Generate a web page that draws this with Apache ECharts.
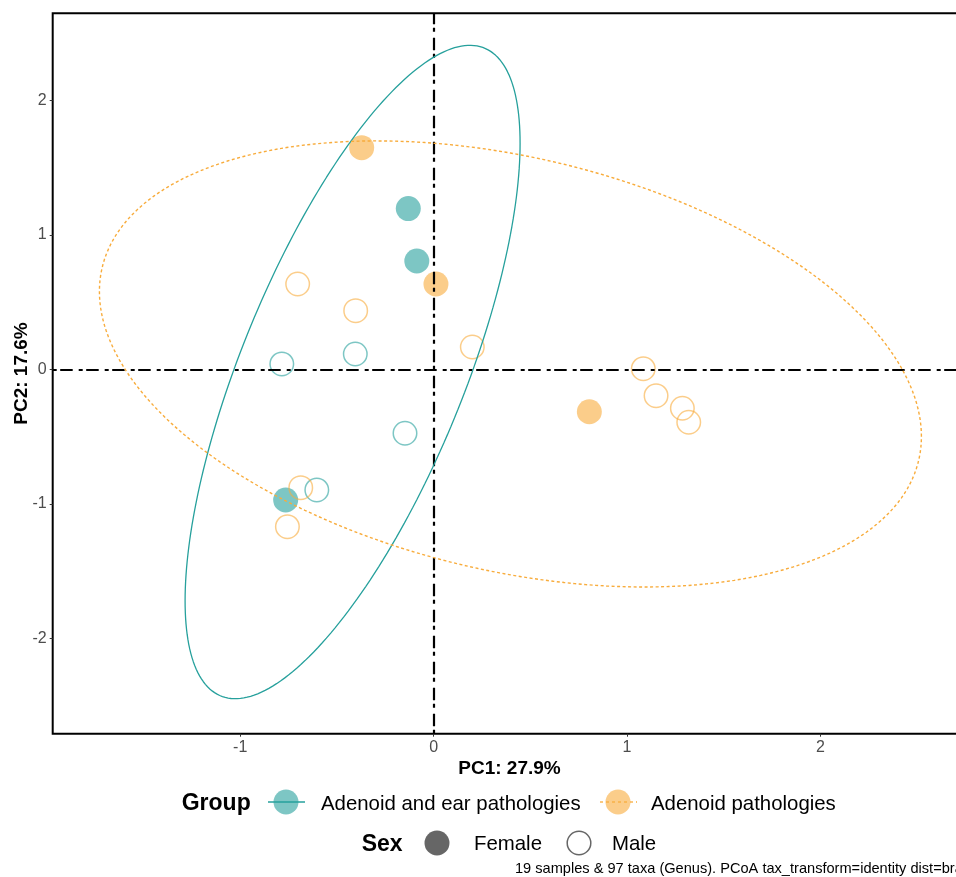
<!DOCTYPE html>
<html>
<head>
<meta charset="utf-8">
<script src="https://cdn.jsdelivr.net/npm/echarts@6/dist/echarts.min.js"></script>
<style>
  html, body { margin: 0; padding: 0; background: #fff; }
  #chart { width: 956px; height: 877px; }
</style>
</head>
<body>
<div id="chart"></div>
<script>
// ---------- data ----------
const groupNames = ['Adenoid and ear pathologies', 'Adenoid pathologies'];
const sexNames = ['Female', 'Male'];
const xTicks = [-1, 0, 1, 2];
const yTicks = [-2, -1, 0, 1, 2];
const xTitle = 'PC1: 27.9%';
const yTitle = 'PC2: 17.6%';
const caption = '19 samples & 97 taxa (Genus). PCoA tax_transform=identity dist=bray';

// [PC1, PC2]
const earFemale = [[-0.131, 1.195], [-0.087, 0.806], [-0.765, -0.970]];
const earMale = [[-0.785, 0.041], [-0.405, 0.115], [-0.148, -0.474], [-0.604, -0.895]];
const adenoidFemale = [[-0.372, 1.648], [0.012, 0.635], [0.805, -0.314]];
const adenoidMale = [[-0.703, 0.635], [-0.403, 0.437], [0.200, 0.167], [-0.687, -0.878],
  [-0.756, -1.168], [1.084, 0.006], [1.150, -0.195], [1.286, -0.288], [1.319, -0.392]];

// ellipse parameters: [centre x, centre y, half-width, half-height, phase]
const earEllipse = [-0.419, -0.019, 0.866, 2.427, 0.795];
const adenoidEllipse = [0.397, 0.041, 2.125, 1.657, 1.902];

// ---------- styling ----------
const TEAL = '#26A09C';
const ORANGE = '#F8AC3C';
const TEAL_A = 'rgba(38,160,156,0.6)';
const ORANGE_A = 'rgba(248,172,60,0.6)';
const FONT = "'Liberation Sans', Arial, Helvetica, sans-serif";

function ellipsePath(p) {
  const pts = [];
  const n = 240;
  for (let i = 0; i <= n; i++) {
    const t = (i / n) * 2 * Math.PI;
    pts.push([p[0] + p[2] * Math.cos(t), p[1] + p[3] * Math.cos(t - p[4])]);
  }
  return pts;
}

const chart = echarts.init(document.getElementById('chart'), null, { renderer: 'canvas' });

const xMin = -1.9695, xMax = 2.754, yMin = -2.706, yMax = 2.646;

const filledStyle = c => ({ color: c, borderWidth: 0, opacity: 1 });
const openStyle = c => ({ color: 'rgba(0,0,0,0)', borderColor: c, borderWidth: 1.5, opacity: 1 });

const option = {
  animation: false,
  backgroundColor: '#fff',
  textStyle: { fontFamily: FONT },
  grid: {
    left: 52.7, top: 13.3, right: -10.3, bottom: 143.3,
    containLabel: false, outerBoundsMode: 'none',
    show: true, borderColor: '#000', borderWidth: 2, backgroundColor: 'transparent'
  },
  xAxis: {
    type: 'value', min: xMin, max: xMax,
    splitLine: { show: false },
    axisLine: { show: false, onZero: false },
    axisTick: { show: true, length: 3, lineStyle: { color: '#333', width: 1 }, customValues: xTicks },
    axisLabel: { color: '#4D4D4D', fontSize: 16, margin: 6, fontFamily: FONT, customValues: xTicks },
    name: xTitle, nameLocation: 'middle', nameGap: 26, nameMoveOverlap: false,
    nameTextStyle: { color: '#000', fontSize: 19, fontWeight: 'bold', fontFamily: FONT }
  },
  yAxis: {
    type: 'value', min: yMin, max: yMax,
    splitLine: { show: false },
    axisLine: { show: false, onZero: false },
    axisTick: { show: true, length: 3, lineStyle: { color: '#333', width: 1 }, customValues: yTicks },
    axisLabel: { color: '#4D4D4D', fontSize: 16, margin: 6, fontFamily: FONT, customValues: yTicks },
    name: yTitle, nameLocation: 'middle', nameGap: 21, nameRotate: 90, nameMoveOverlap: false,
    nameTextStyle: { color: '#000', fontSize: 19, fontWeight: 'bold', fontFamily: FONT }
  },
  series: [
    {
      name: groupNames[0] + ' / ' + sexNames[0], type: 'scatter', data: earFemale,
      symbol: 'circle', symbolSize: 25, itemStyle: filledStyle(TEAL_A), z: 2,
      markLine: {
        silent: true, symbol: ['none', 'none'], label: { show: false },
        lineStyle: { color: '#000', width: 2.2, type: [4, 3.5, 12.5, 6], cap: 'butt' },
        data: [{ xAxis: 0 }, { yAxis: 0 }], z: 3
      }
    },
    {
      name: groupNames[0] + ' / ' + sexNames[1], type: 'scatter', data: earMale,
      symbol: 'circle', symbolSize: 23.5, itemStyle: openStyle(TEAL_A), z: 2
    },
    {
      name: groupNames[1] + ' / ' + sexNames[0], type: 'scatter', data: adenoidFemale,
      symbol: 'circle', symbolSize: 25, itemStyle: filledStyle(ORANGE_A), z: 2
    },
    {
      name: groupNames[1] + ' / ' + sexNames[1], type: 'scatter', data: adenoidMale,
      symbol: 'circle', symbolSize: 23.5, itemStyle: openStyle(ORANGE_A), z: 2
    },
    {
      name: groupNames[0], type: 'line', data: ellipsePath(earEllipse),
      showSymbol: false, symbol: 'none', smooth: false, silent: true,
      lineStyle: { color: TEAL, width: 1.3, type: 'solid' }, z: 4
    },
    {
      name: groupNames[1], type: 'line', data: ellipsePath(adenoidEllipse),
      showSymbol: false, symbol: 'none', smooth: false, silent: true,
      lineStyle: { color: ORANGE, width: 1.4, type: [3, 2.5] }, z: 4
    }
  ],
  graphic: [
    // Group legend
    { type: 'text', left: 181.7, top: 802 - 10, style: { text: 'Group', font: 'bold 23px ' + FONT, fill: '#000' } },
    { type: 'circle', shape: { cx: 286, cy: 802, r: 12.5 }, style: { fill: TEAL_A } },
    { type: 'line', shape: { x1: 268, y1: 802, x2: 305, y2: 802 }, style: { stroke: TEAL, lineWidth: 1.3 } },
    { type: 'text', left: 321, top: 802 - 8, style: { text: groupNames[0], font: '20.4px ' + FONT, fill: '#000' } },
    { type: 'circle', shape: { cx: 618, cy: 802, r: 12.5 }, style: { fill: ORANGE_A } },
    { type: 'line', shape: { x1: 600, y1: 802, x2: 637, y2: 802 }, style: { stroke: ORANGE, lineWidth: 1.3, lineDash: [3, 3] } },
    { type: 'text', left: 651, top: 802 - 8, style: { text: groupNames[1], font: '20.4px ' + FONT, fill: '#000' } },
    // Sex legend
    { type: 'text', left: 361.7, top: 843 - 10, style: { text: 'Sex', font: 'bold 23px ' + FONT, fill: '#000' } },
    { type: 'circle', shape: { cx: 437, cy: 843, r: 12.5 }, style: { fill: 'rgba(0,0,0,0.6)' } },
    { type: 'text', left: 474, top: 843 - 8.5, style: { text: sexNames[0], font: '20.4px ' + FONT, fill: '#000' } },
    { type: 'circle', shape: { cx: 579, cy: 843, r: 11.8 }, style: { fill: 'rgba(0,0,0,0)', stroke: 'rgba(0,0,0,0.6)', lineWidth: 1.5 } },
    { type: 'text', left: 612, top: 843 - 8.5, style: { text: sexNames[1], font: '20.4px ' + FONT, fill: '#000' } },
    // caption
    { type: 'text', left: 515, top: 861, style: { text: caption, font: '14.6px ' + FONT, fill: '#000' } }
  ]
};

chart.setOption(option);
</script>
</body>
</html>
